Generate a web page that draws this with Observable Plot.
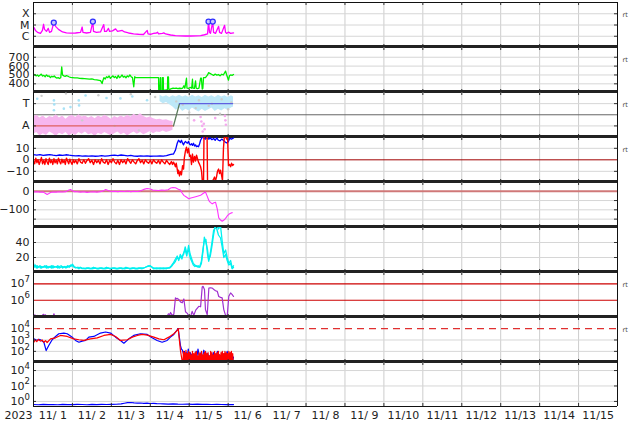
<!DOCTYPE html>
<html><head><meta charset="utf-8">
<script src="https://cdn.jsdelivr.net/npm/d3@7"></script>
<script src="https://cdn.jsdelivr.net/npm/@observablehq/plot@0.6"></script>
<style>
body{margin:0;background:#fff;}
#chart{position:relative;width:634px;height:424px;overflow:hidden;background:#fff;}
</style></head><body><div id="chart"></div>
<script>
// ---------- axis / tick data ----------
const dayLines = [24,48,72,96,120,144,168,192,216,240,264,288,312,336];
const dayLabelHours = [12,36,60,84,108,132,156,180,204,228,252,276,300,324,348];
const dayLabels = ["11/ 1","11/ 2","11/ 3","11/ 4","11/ 5","11/ 6","11/ 7","11/ 8","11/ 9","11/10","11/11","11/12","11/13","11/14","11/15"];
const yearLabel = "2023";

const xrayTicks = [[1e-4,"X"],[1e-5,"M"],[1e-6,"C"]];
const windTicks = [[700,"700"],[600,"600"],[500,"500"],[400,"400"]];
const sectorTicks = [[1,"T"],[-1,"A"]];
const imfTicks = [[10,"10"],[0,"0"],[-10,"\u221210"]];
const dstTicks = [[0,"0"],[-100,"\u2212100"]];
const densTicks = [[40,"40"],[20,"20"]];
// power-of-ten ticks: [value, exponent]
const protTicks = [[1e7,"7"],[1e6,"6"]];
const elecTicks = [[1e4,"4"],[1e3,"3"],[1e2,"2"]];
const p9Ticks = [[1e4,"4"],[1e2,"2"],[1,"0"]];
const dstGrid = [-50,-100,-150];

// ---------- series (hours since 2023-11-01 00:00, value) ----------
const xray = [[0.2,6.2e-6],[1.2,3.3e-6],[2.5,2.2e-6],[4.3,1.8e-6],[5.5,3.3e-6],[6.2,1.16e-5],[6.8,4.1e-6],[8.0,2.7e-6],[9.1,5.0e-6],[9.9,2.2e-6],[11.1,2.7e-6],[12.5,1.65e-5],[13.6,7.6e-6],[15.4,4.1e-6],[17.9,2.4e-6],[20.3,2.0e-6],[22.8,1.9e-6],[25.9,1.95e-6],[29,2.2e-6],[30,6.6e-6],[30.5,2.2e-6],[32.7,1.95e-6],[35.1,2.2e-6],[36.6,2.0e-5],[37,2.7e-6],[38.8,2.2e-6],[41.3,2.4e-6],[43.3,1.09e-5],[43.8,2.7e-6],[45,2.7e-6],[46.2,5.0e-6],[46.9,2.7e-6],[48.7,3.0e-6],[50.6,4.5e-6],[51.8,2.7e-6],[54.7,3.3e-6],[56.1,2.4e-6],[58.6,1.95e-6],[61.7,1.65e-6],[64.7,1.5e-6],[67.8,1.43e-6],[70.1,3.3e-6],[70.6,1.6e-6],[72.1,1.5e-6],[74,1.8e-6],[75.8,1.95e-6],[76.4,2.3e-6],[77.1,1.6e-6],[79.5,1.8e-6],[80.3,2.0e-6],[81.4,1.6e-6],[84.5,1.29e-6],[87.5,1.16e-6],[90.6,1.09e-6],[93.7,1.05e-6],[96.8,1.05e-6],[99.9,1.09e-6],[103,1.16e-6],[104.8,1.29e-6],[106,1.43e-6],[107.3,1.6e-6],[107.9,2.0e-5],[108.5,2.2e-6],[109.1,1.8e-6],[110.5,2.0e-5],[111,2.2e-6],[112.2,1.8e-6],[114.1,7.6e-6],[114.7,2.2e-6],[115.9,1.8e-6],[117.8,9.4e-6],[118.4,2.2e-6],[119,1.8e-6],[120.2,2.3e-6],[121.5,1.8e-6],[123.3,2.0e-6]];
const flares = [[12.5,1.65e-5],[36.6,2.0e-5],[107.9,2.0e-5],[110.5,2.0e-5]];

const wind = [[0,495],[0.8,505],[1.6,490],[2.4,500],[3.2,485],[4,498],[4.8,510],[5.6,488],[6.4,495],[7.2,480],[8,500],[8.8,485],[9.6,490],[10.4,470],[11.2,485],[12,478],[12.8,488],[13.6,472],[14.4,465],[15.2,470],[16,460],[16.8,468],[17.4,590],[17.9,500],[18.7,490],[19.5,485],[20.3,492],[21.1,488],[21.8,480],[22.8,472],[24,470],[25.5,466],[27,468],[28.5,462],[30,460],[31.5,458],[33,455],[34.5,452],[36,455],[37.5,448],[39,445],[40.5,440],[41.3,436],[42.3,404],[42.8,438],[43.4,470],[44.2,455],[45,480],[45.8,470],[46.6,488],[47.4,462],[48.2,478],[49,490],[49.8,470],[50.6,482],[51.4,460],[52.2,495],[53,470],[53.8,480],[54.6,500],[55.4,475],[56.2,485],[57,468],[57.8,490],[58.6,478],[59.4,500],[60.2,480],[61,470],[61.8,367],[62.4,480],[62.9,470],[63.9,470],[70,470],[76.4,470],[77.1,470],[77.2,322],[77.8,322],[78.2,470],[78.4,470],[78.5,322],[79.4,322],[79.5,470],[80,470],[80.1,330],[81,328],[82,332],[82.6,330],[82.7,478],[83.2,478],[83.4,341],[84,338],[85,345],[86,350],[87,348],[88,352],[89,345],[90,350],[91,347],[92,352],[92.7,378],[93.3,350],[94.3,463],[94.6,352],[95.5,348],[96.8,359],[97.5,350],[98,452],[98.3,352],[99.2,348],[99.9,433],[100.3,350],[101,345],[102,352],[103,463],[103.5,463],[104,341],[104.4,350],[104.8,470],[106,470],[107.3,500],[107.9,526],[109,515],[110,505],[111,495],[112,510],[113,498],[114,505],[115,490],[116,508],[117,500],[118.4,544],[119,505],[120.2,441],[120.8,490],[121.5,500],[122.4,495],[123.3,505]];

const sector = [[0,-1],[86.3,-1],[90,1],[122.7,1]];
// [hours, upper, lower] of the scatter bands
const awayBand = [[0,-0.2,-1.75],[2,-0.05,-1.6],[4,-0.3,-1.9],[6,-0.1,-1.7],[8,-0.35,-1.85],[10,-0.15,-1.55],[12,-0.25,-1.7],[14,0,-1.95],[16,-0.3,-1.65],[18,-0.1,-1.8],[20,-0.4,-1.6],[22,-0.15,-1.9],[24,-0.05,-1.7],[26,-0.25,-1.85],[28,0,-1.6],[30,-0.2,-1.75],[32,-0.1,-1.55],[34,-0.3,-1.8],[36,-0.15,-1.7],[38,-0.35,-1.95],[40,-0.1,-1.65],[42,-0.25,-1.8],[44,-0.05,-1.6],[46,-0.2,-1.75],[48,-0.4,-1.9],[50,-0.15,-1.7],[52,-0.3,-1.55],[54,-0.1,-1.8],[56,-0.25,-1.65],[58,-0.05,-1.9],[60,-0.2,-1.7],[62,0.05,-1.55],[64,-0.1,-1.75],[66,0.1,-1.6],[68,-0.15,-1.8],[70,-0.3,-1.65],[72,-0.2,-1.5],[74,-0.35,-1.7],[76,-0.45,-1.55],[78,-0.4,-1.6],[80,-0.5,-1.45],[82,-0.45,-1.6],[84,-0.55,-1.5],[86,-0.6,-1.4]];
const towardBand = [[78,1.75,1.2],[80,1.6,1.0],[82,1.7,1.1],[84,1.55,0.9],[86,1.7,0.7],[88,1.6,0.4],[90,1.75,0.6],[92,1.6,0.3],[94,1.7,0.5],[96,1.55,0.35],[98,1.75,0.6],[100,1.6,0.4],[102,1.7,0.25],[104,1.55,0.5],[106,1.75,0.3],[108,1.6,0.45],[110,1.7,0.6],[112,1.55,0.3],[114,1.75,0.5],[116,1.6,0.35],[118,1.7,0.55],[120,1.55,0.4],[122,1.7,0.6],[123.3,1.6,0.7]];
const towardDots = [[2.3,1.44],[12.6,1.29],[12.8,0.93],[12.6,0.4],[18.7,0.55],[22.8,0.69],[27.9,1.29],[28.1,0.84],[32.1,1.73],[45,1.5],[53.6,1.47],[60.9,1.64],[70,1.3]];
const awayDots = [[99,-0.5],[103,-0.2],[103.5,-0.6],[104,-1.0],[104.3,-1.5],[104.6,-1.9],[105,-0.8],[105.5,-1.3],[112,-0.3],[118,-0.1],[118.3,-0.5],[118.6,-0.9]];
const mixedDots = [[5,1.7],[20,1.9],[40,1.75],[60,1.85],[75,1.6],[92,0.9],[96,0.2],[100,0.6],[110,1.0],[115,0.1],[120,0.5],[95,-0.3],[30,-0.5],[50,-1.0],[65,-1.4],[88,1.2],[102,1.3],[108,0.8],[116,1.4],[122,1.1]];

const bt = [[0,4.5],[2,4],[4,4.6],[6,3.8],[8,4.2],[10,4.6],[12,4],[14,3.6],[16,4.2],[18,3.8],[20,4.4],[22,4],[24,3.7],[26,3.4],[28,3.6],[30,3.3],[32,3.5],[34,3.2],[36,3.4],[38,3.1],[40,3.3],[42,3.6],[44,3.2],[46,3.5],[48,3.8],[50,4.1],[52,3.7],[54,4.2],[56,3.9],[58,3.5],[60,3.8],[62,3.3],[64,3.1],[66,3.4],[68,3.2],[70,3.4],[72,3.1],[74,3.3],[76,3.2],[78,3.4],[80,3.3],[82,3.6],[84,4.5],[85.5,5],[86.3,5],[87,7],[87.5,8.4],[88,11],[88.6,14.4],[89.4,17],[90,16],[90.6,15],[91.2,17],[91.9,14.5],[92.5,13],[93.1,15],[93.7,16],[94.3,15],[95,14.5],[95.6,16],[96.2,13.5],[96.8,13],[97.4,14],[98,12.5],[98.6,14.4],[99.3,12],[99.9,13],[100.5,11.5],[101.1,12],[101.7,11.4],[102.4,14],[103,17],[103.6,18.5],[104.2,20],[105,19],[106,18],[107,19.5],[108,18],[109,19],[110,17.5],[111,18.5],[112,17],[113,19],[114,17],[115,16.5],[116,18],[117,17],[118,15.8],[119,14.7],[120,15.5],[121,18.8],[122,18],[123.3,19]];
const bz = [[0,-1],[0.7,-3.5],[1.4,1.5],[2.1,-2.5],[2.8,0],[3.5,-4],[4.2,-1],[4.9,2],[5.6,-3.5],[6.3,-0.5],[7,-4],[7.7,1],[8.4,-2],[9.1,-4],[9.8,1.5],[10.5,-2.5],[11.2,-0.5],[11.9,-4],[12.6,1],[13.3,-2.5],[14,-0.5],[14.7,-3.5],[15.4,1.5],[16.1,-1.5],[16.8,-3.5],[17.5,0.5],[18.2,-2.5],[18.9,-0.5],[19.6,-4],[20.3,1.5],[21,-1],[21.7,-3.5],[22.4,0.5],[23.1,-2],[23.8,-4],[24.5,0],[25.2,-2.5],[26,-0.5],[27,-3.5],[28,1],[29,-2],[30,-3],[31,0],[32,-3],[33,-0.5],[34,1],[35,-2.5],[36,-0.5],[37,-4],[38,0],[39,-2.5],[40,-0.5],[41,-3.5],[42,1],[43,-2],[44,-3],[45,0],[46,-4],[47,-0.5],[48,-2.5],[49,1],[50,-2],[51,-3.5],[52,-0.5],[53,-4],[54,0],[55,-2.5],[56,-0.5],[57,-3.5],[58,1],[59,-1],[60,-3],[61,0],[62,-2],[63,-3.5],[64,-0.5],[65,1],[66,-2.5],[67,-0.5],[68,-3.5],[69,0],[70,-2],[71,-3],[72,-0.5],[73,-3.5],[74,0],[75,-2],[76,-3],[77,-0.5],[78,-3.5],[79,0],[80,-2],[81,-3.5],[82,-0.5],[83,-2.5],[84,-4],[85,-1.5],[85.7,-4],[86.3,-2],[87,-4],[87.5,-6],[88,-3],[88.6,-8],[89,-12],[89.4,-9],[90,-14],[90.6,-10],[91.2,-13],[91.9,-5],[92.5,-8],[93,2],[93.7,8],[94.3,11],[94.9,6],[95.6,10],[96.2,3],[96.8,4],[97.4,-4],[98,5],[98.6,-2],[99.3,3],[99.9,-1],[100.5,4],[101.1,1],[101.7,-2],[102.4,-4],[103,-6],[103.6,-10],[104.2,-21],[104.8,-21],[105.1,21],[105.8,21],[106.5,21],[107,21],[107.3,-21],[108,-21],[109,-21],[109.8,-19],[110.4,-18],[111,-17],[111.6,-15],[112.2,-18],[112.8,-15],[113.4,-10],[114.1,-8],[114.7,-12],[115.3,-9],[116,-14],[116.5,-18],[117.1,10],[117.7,21],[118.4,21],[119,18],[119.6,21],[120.2,-5],[120.8,-4],[121.5,-6],[122.1,-3],[122.7,-5],[123.3,-4]];

const dst = [[0,-4],[2,-3],[4,-5],[6,-4],[7,-10],[8.4,-17],[9.5,-12],[10.5,-7],[12,-4],[14,-5],[16,-3],[18,-4],[20,-2],[21.5,5],[22.8,9],[24,3],[25,-2],[27,-3],[29,-5],[31,-3],[33,-6],[35,-4],[37,-3],[39,-5],[41,-2],[43,2],[44.5,9],[46,4],[48,-1],[50,0],[52,-2],[54,0],[56,-1],[58,1],[60,-2],[62,0],[64,-1],[66,2],[68,10],[70,15],[72,12],[73.5,6],[75,5],[77,4],[79,6],[81,5],[83,8],[84.5,17],[86,20],[87.5,19],[89,12],[90.6,6],[91.5,-8],[92.7,-22],[94,-30],[95.7,-40],[97,-36],[98.8,-32],[100.5,-28],[103,-22],[104.5,-12],[106,-4],[107,-25],[108.1,-50],[109,-60],[110.2,-68],[111.2,-62],[112.2,-59],[113.3,-96],[114.2,-143],[115.3,-155],[116.3,-161],[117.4,-155],[118.4,-146],[119.4,-133],[120.4,-124],[121.5,-118],[122.5,-115]];

const dens1 = [[0,12],[0.6,8],[1.2,10],[1.8,6],[2.4,9],[3,7],[3.6,8],[4.2,6],[5,8],[6,7],[7,9],[8,6],[9,8],[10,7],[11,9],[12,6],[13,8],[14,7],[15,9],[16,6],[17,7],[18,8],[19,7],[20,8],[21,7],[22,9],[23,8],[24,11],[25,8],[26,7],[27,6],[28,7],[29,6],[30,5],[31,6],[32,5],[34,6],[36,5],[38,6],[40,5],[42,6],[44,5],[46,6],[48,5],[50,6],[52,5],[54,6],[56,5],[58,6],[60,5],[62,6],[64,5],[66,6],[68,6],[70,8],[72,9],[73,7],[74,5],[76,6],[78,5],[80,6],[82,5],[84,7],[85,9],[86,12],[86.5,14],[87.5,18],[88.6,22],[89.5,16],[90.5,24],[91.5,18],[92.5,26],[93.5,30],[94.5,22],[95.6,36],[96.5,25],[97.7,17],[98.5,12],[99.5,10],[100.5,8],[101.5,9],[102.5,7],[103.5,12],[104.5,28],[105.3,47],[106.3,40],[107.3,30],[108,17],[109,22],[110,35],[111,50],[112,62],[113,64],[114,58],[115.3,62],[116.3,42],[117.3,25],[118.4,30],[119.4,20],[120.4,12],[121.5,16],[122.5,6],[123.3,9]];
const dens2 = [[0,10],[0.8,7],[1.6,9],[2.4,6],[3.2,8],[4,9],[5,6],[6,8],[7,7],[8,9],[9,6],[10,8],[11,6],[12,9],[13,7],[14,8],[15,6],[16,8],[17,9],[18,6],[19,8],[20,6],[21,9],[22,7],[23,10],[24,9],[25,7],[26,6],[27,7],[28,5],[29,7],[30,6],[31,5],[33,6],[35,5],[37,7],[39,5],[41,6],[43,5],[45,7],[47,5],[49,6],[51,5],[53,6],[55,5],[57,7],[59,5],[61,6],[63,5],[65,6],[67,5],[69,7],[71,9],[72.5,8],[74,6],[76,5],[78,6],[80,5],[82,6],[84,6],[85,8],[86,11],[86.5,12],[87.5,15],[88.6,20],[89.5,18],[90.5,20],[91.5,22],[92.5,24],[93.5,34],[94.5,26],[95.6,30],[96.5,20],[97.7,14],[98.5,10],[99.5,8],[100.5,9],[101.5,7],[102.5,8],[103.5,15],[104.5,32],[105.3,42],[106.3,44],[107.3,24],[108,15],[109,26],[110,40],[111,56],[112,60],[113,58],[114,50],[115.3,46],[116.3,34],[117.3,20],[118.4,24],[119.4,16],[120.4,10],[121.5,12],[122.5,5],[123.3,7]];

const protons = [[0.2,1.1e5],[0.8,1.3e5],[1.4,1.05e5],[2.2,1.2e5],[2.6,null],[5.3,1.15e5],[6,1.4e5],[6.8,1.2e5],[7.4,1.3e5],[7.8,null],[12.2,1.1e5],[12.6,1.5e5],[13,1.1e5],[13.3,null],[82.4,1.1e5],[83.2,1.5e5],[84,1.3e5],[84.5,1.8e5],[85.5,1.2e5],[86.5,1.4e5],[87.5,1.4e6],[88,1.2e6],[88.6,1.3e6],[89.6,1.1e6],[90.6,8e5],[91.7,7e5],[92.7,1.2e6],[93.7,2e5],[94.8,1.6e5],[95.8,1.05e5],[96.8,1.0e5],[97.8,2.1e5],[98.8,1.2e5],[100,2.5e5],[101.9,4.3e5],[103,4e5],[104,6.5e6],[104.5,7.1e6],[105.4,4.5e6],[106,2.7e5],[107.1,1.3e5],[108.1,5.6e6],[109,5.8e6],[110.2,5.5e6],[111.2,4.5e6],[112.2,3.8e6],[113.3,3.5e6],[114.2,1.7e6],[115.3,1.5e6],[116.3,1.4e6],[117.3,2.7e5],[118.4,1.2e5],[119.4,1.1e5],[120.4,1.74e6],[121.5,2.8e6],[122.5,2.2e6],[123.3,1.7e6]];

const elecBlue = [[0.2,1260],[1.2,1100],[2.3,912],[3.3,1150],[4.3,1047],[5.3,800],[6.4,631],[7.8,117],[9.4,324],[11.5,1047],[13.6,2042],[15.6,3548],[18.7,4074],[20.8,3548],[23.9,1778],[25.9,912],[28,631],[30,794],[32.1,912],[34.1,1778],[37.2,2042],[41.3,4074],[44.4,5012],[47.5,4074],[50.6,1778],[53.6,912],[55.7,525],[58.8,1260],[61.8,2512],[65.9,3548],[70.1,3090],[73.1,1549],[76.2,912],[79.3,631],[82.4,912],[84.4,1778],[86.5,3090],[88.6,7943],[89.2,10000],[90.6,324],[91.2,158],[91.8,126],[92.4,63],[93,100],[93.6,40],[94.2,79],[94.8,32],[95.4,158],[96,50],[96.6,79],[97.2,32],[97.8,63],[98.4,25],[99,50],[99.6,32],[100.2,100],[100.8,40],[101.4,158],[102,50],[102.6,32],[103.2,79],[103.8,25],[104.4,40],[105,126],[105.6,50],[106.2,79],[106.8,20],[107.4,63],[108,32],[108.6,40],[109.2,25],[109.8,63],[110.4,32],[111,79],[111.6,40],[112.2,25],[112.8,50],[113.4,100],[114,32],[114.6,50],[115.2,25],[115.8,40],[116.4,79],[117,32],[117.6,63],[118.2,25],[118.8,40],[119.4,100],[120,32],[120.6,50],[121.2,25],[121.8,79],[122.4,32],[123,20],[123.3,32]];
const elecRed = [[0.2,631],[1,1000],[2,708],[3,1122],[4.3,794],[5.3,1000],[6.4,631],[7.4,891],[8.4,603],[10.5,1260],[13.6,1549],[16.6,2512],[20.8,2042],[24.8,1260],[28,1047],[31,912],[35.1,1260],[39.3,1549],[43.4,2512],[47.5,3090],[50.6,2042],[53.6,912],[57.8,1047],[60.9,1778],[64,2512],[67,3090],[70.1,2692],[74.2,1778],[77.3,1260],[80.4,1047],[83.4,1778],[86.5,3548],[88.6,6918],[89.2,10000],[90.6,117],[91.6,15],[92,3],[92.4,100],[92.8,3],[93.2,79],[93.6,3],[94,126],[94.4,3],[94.8,63],[95.2,3],[95.6,100],[96,3],[96.4,79],[96.8,3],[97.2,50],[97.6,3],[98,100],[98.4,3],[98.8,63],[99.2,3],[99.6,79],[100,3],[100.4,100],[100.8,3],[101.2,40],[101.6,3],[102,79],[102.4,3],[102.8,63],[103.2,3],[103.6,100],[104,3],[104.4,50],[104.8,3],[105.2,79],[105.6,3],[106,100],[106.4,3],[106.8,63],[107.2,3],[107.6,79],[108,3],[108.4,40],[108.8,3],[109.2,100],[109.6,3],[110,79],[110.4,3],[110.8,50],[111.2,3],[111.6,100],[112,3],[112.4,63],[112.8,3],[113.2,79],[113.6,3],[114,100],[114.4,3],[114.8,50],[115.2,3],[115.6,79],[116,3],[116.4,100],[116.8,3],[117.2,63],[117.6,3],[118,100],[118.4,3],[118.8,79],[119.2,3],[119.6,63],[120,3],[120.4,100],[120.8,3],[121.2,79],[121.6,3],[122,100],[122.4,3],[122.8,63],[123.3,3]];

const p9 = [[0,0.4],[3,0.37],[6,0.41],[9,0.38],[12,0.4],[15,0.37],[18,0.41],[21,0.39],[24,0.38],[27,0.42],[30,0.4],[33,0.37],[36,0.41],[39,0.39],[42,0.42],[45,0.4],[48,0.41],[51,0.43],[54,0.47],[56,0.58],[58,0.68],[60,0.72],[62,0.64],[64,0.6],[66,0.62],[68,0.56],[70,0.59],[72,0.54],[74,0.57],[76,0.52],[78,0.5],[80,0.48],[83,0.46],[86,0.47],[89,0.44],[92,0.43],[95,0.45],[98,0.42],[101,0.44],[104,0.41],[107,0.43],[110,0.4],[113,0.42],[116,0.4],[119,0.39],[122,0.4],[123.3,0.39]];

// ---------- drawing ----------
const chart = document.getElementById("chart");
const FONT = "'DejaVu Sans',sans-serif";
const FS = 11;
const gx = d => d[0], gy = d => d[1];
const PW = 634 - 33 - 17;

function panel({top, height, y, grid = [], ticks = [], pow = [], rt = false, marks = [], last = false, special = []}) {
  const dom = y.domain;
  const all = [
    Plot.ruleX(dayLines, {stroke: "#cdcdcd", strokeWidth: 1}),
    Plot.ruleY(grid, {stroke: "#d6d6d6", strokeWidth: 1}),
    ...special,
    ...marks,
    // small ticks
    Plot.ruleX(dayLines, {stroke: "#333", insetTop: height - 3}),
    Plot.ruleX(dayLines, {stroke: "#333", insetBottom: height - 3}),
    Plot.ruleY(grid, {stroke: "#333", insetLeft: PW - 3}),
    Plot.ruleY(grid, {stroke: "#333", insetRight: PW - 3}),
    Plot.ruleX([0, 360], {stroke: "#111", strokeWidth: 1}),
    Plot.text(ticks, {y: d => d[0], text: d => d[1], frameAnchor: "left", dx: -4, textAnchor: "end", fontSize: FS, fill: "#222"}),
    Plot.text(pow, {y: d => d[0], text: () => "10", frameAnchor: "left", dx: -9, textAnchor: "end", fontSize: FS, fill: "#222"}),
    Plot.text(pow, {y: d => d[0], text: d => d[1], frameAnchor: "left", dx: -9, dy: -4.5, textAnchor: "start", fontSize: 8.5, fill: "#222"})
  ];
  if (rt) all.push(Plot.text(["rt"], {frameAnchor: "top-right", dx: 5, dy: 10, textAnchor: "start", fontSize: 6.5, fill: "#444"}));
  if (last) {
    all.push(Plot.ruleY([dom[0]], {stroke: "#111", strokeWidth: 1}));
    all.push(Plot.text(dayLabelHours, {x: d => d, text: (d, i) => dayLabels[i], frameAnchor: "bottom", dy: 12, fontSize: FS, fill: "#222"}));
    all.push(Plot.text([yearLabel], {frameAnchor: "bottom-left", dx: -15, dy: 12, textAnchor: "middle", fontSize: FS, fill: "#222"}));
  } else {
    all.push(Plot.ruleY([dom[0]], {stroke: "#222", strokeWidth: 3, dy: -1}));
  }
  const svg = Plot.plot({
    width: 634, height: height + (last ? 20 : 0),
    marginLeft: 33, marginRight: 17, marginTop: 0, marginBottom: last ? 20 : 0,
    x: {domain: [0, 360], axis: null},
    y: {...y, axis: null},
    style: {background: "transparent", overflow: "visible", fontFamily: FONT, position: "absolute", left: "0px", top: top + "px"},
    marks: all
  });
  chart.appendChild(svg);
}

// panel 1: X-ray
panel({top: 2, height: 45, y: {type: "log", domain: [1e-7, 1e-3]}, grid: xrayTicks.map(gx), ticks: xrayTicks, rt: true,
  special: [Plot.ruleY([1e-3], {stroke: "#111", strokeWidth: 1})],
  marks: [
    Plot.line(xray, {x: gx, y: gy, stroke: "#ff00ff", strokeWidth: 1.3, clip: true}),
    Plot.dot(flares, {x: gx, y: gy, r: 2.5, stroke: "#3030ff", fill: "#c8c8ff", strokeWidth: 1.3})
  ]});

// panel 2: solar wind speed
panel({top: 47, height: 45, y: {domain: [302, 810]}, grid: windTicks.map(gx), ticks: windTicks, rt: true,
  marks: [Plot.line(wind, {x: gx, y: gy, stroke: "#00ee00", strokeWidth: 1.3, clip: true})]});

// panel 3: sector
panel({top: 92, height: 45, y: {domain: [-2.04, 2]}, grid: [1, -1], ticks: sectorTicks, rt: true,
  special: [Plot.ruleY([0], {stroke: "#666", strokeWidth: 1})],
  marks: [
    Plot.areaY(awayBand, {x: d => d[0], y1: d => d[1], y2: d => d[2], fill: "#f7b6ef", clip: true}),
    Plot.areaY(towardBand, {x: d => d[0], y1: d => d[1], y2: d => d[2], fill: "#bde8f8", clip: true}),
    Plot.dot(towardDots, {x: gx, y: gy, r: 1.3, fill: "#a8e2f6"}),
    Plot.dot(awayDots, {x: gx, y: gy, r: 1.3, fill: "#f4aaee"}),
    Plot.dot(mixedDots, {x: gx, y: gy, r: 1.2, fill: "#cccccc"}),
    Plot.line(sector.slice(0, 2), {x: gx, y: gy, stroke: "#e06060", strokeWidth: 1.3}),
    Plot.line(sector.slice(1, 3), {x: gx, y: gy, stroke: "#5a7a5a", strokeWidth: 1.3}),
    Plot.line(sector.slice(2, 4), {x: gx, y: gy, stroke: "#6060e0", strokeWidth: 1.3})
  ]});

// panel 4: IMF Bt / Bz
panel({top: 137, height: 45, y: {domain: [-19.7, 19.4]}, grid: [10, -10], ticks: imfTicks, rt: true,
  special: [Plot.ruleY([0], {stroke: "#a00000", strokeWidth: 1})],
  marks: [
    Plot.line(bt, {x: gx, y: gy, stroke: "#0000ff", strokeWidth: 1.3, clip: true}),
    Plot.line(bz, {x: gx, y: gy, stroke: "#ff0000", strokeWidth: 1.4, clip: true})
  ]});

// panel 5: Dst
panel({top: 182, height: 45, y: {domain: [-195, 47]}, grid: dstGrid, ticks: dstTicks,
  special: [Plot.ruleY([0], {stroke: "#d07878", strokeWidth: 2})],
  marks: [Plot.line(dst, {x: gx, y: gy, stroke: "#ff33ff", strokeWidth: 1.1, clip: true})]});

// panel 6: density
panel({top: 227, height: 45, y: {domain: [0, 60]}, grid: densTicks.map(gx), ticks: densTicks,
  marks: [
    Plot.line(dens2, {x: gx, y: gy, stroke: "#00f0f0", strokeWidth: 1.3, clip: true}),
    Plot.line(dens1, {x: gx, y: gy, stroke: "#00f0f0", strokeWidth: 1.3, clip: true})
  ]});

// panel 7: protons
panel({top: 272, height: 45, y: {type: "log", domain: [Math.pow(10, 4.95), Math.pow(10, 7.69)]}, pow: protTicks, rt: true,
  special: [Plot.ruleY([1e7, 1e6], {stroke: "#cc0000", strokeWidth: 1.2})],
  marks: [Plot.line(protons, {x: gx, y: gy, stroke: "#a030d0", strokeWidth: 1.2, clip: true})]});

// panel 8: electrons
panel({top: 317, height: 45, y: {type: "log", domain: [10.5, 9.5e4]}, grid: [1e3, 1e2], pow: elecTicks, rt: true,
  special: [Plot.ruleY([1e4], {stroke: "#e03030", strokeWidth: 1.3, strokeDasharray: "7,5"})],
  marks: [
    Plot.line(elecBlue, {x: gx, y: gy, stroke: "#0000ff", strokeWidth: 1.2, clip: true}),
    Plot.line(elecRed, {x: gx, y: gy, stroke: "#ff0000", strokeWidth: 1.2, clip: true})
  ]});

// panel 9
panel({top: 362, height: 44, y: {type: "log", domain: [0.22, 1.1e5]}, grid: p9Ticks.map(gx), pow: p9Ticks, last: true,
  marks: [Plot.line(p9, {x: gx, y: gy, stroke: "#0000ff", strokeWidth: 1.2, clip: true})]});
</script></body></html>
